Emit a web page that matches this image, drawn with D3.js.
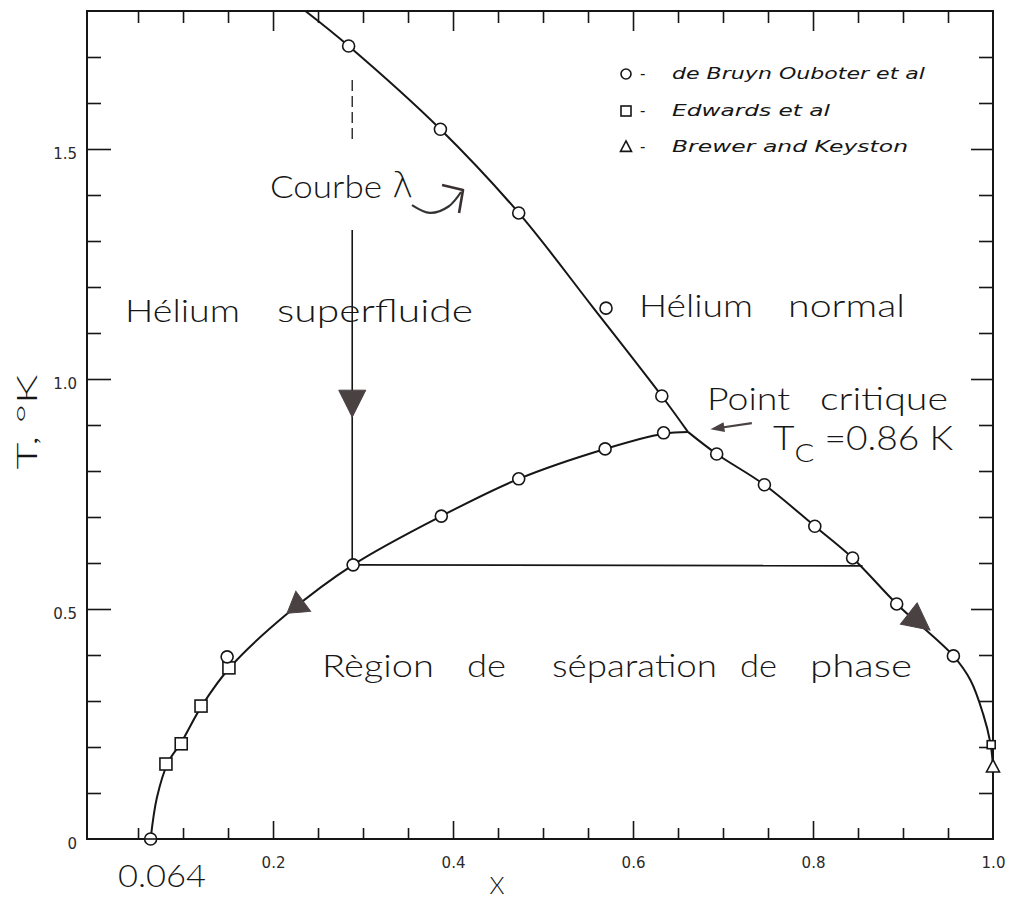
<!DOCTYPE html>
<html><head><meta charset="utf-8">
<script src="https://cdn.jsdelivr.net/npm/d3@7"></script>
<style>body{margin:0;background:#fff}</style>
</head><body>
<svg id="c" width="1013" height="900"></svg>
<script>
// ---------- data ----------
// lambda line (top edge down to the critical point)
const lambdaX = [0.236, 0.284, 0.386, 0.473, 0.555, 0.632, 0.661];
const lambdaT = [1.80, 1.724, 1.543, 1.361, 1.157, 0.963, 0.885];
// right branch of the phase-separation curve
const rightX = [0.661, 0.693, 0.746, 0.802, 0.844, 0.893, 0.956, 0.975, 0.989, 0.997, 1.0];
const rightT = [0.885, 0.837, 0.770, 0.680, 0.611, 0.511, 0.398, 0.345, 0.272, 0.210, 0.159];
// left branch of the phase-separation curve
const leftX = [0.064, 0.071, 0.083, 0.098, 0.121, 0.153, 0.216, 0.289, 0.387, 0.473, 0.569, 0.634, 0.661];
const leftT = [0.0, 0.09, 0.165, 0.21, 0.29, 0.375, 0.49, 0.596, 0.702, 0.783, 0.848, 0.881, 0.885];
// de Bruyn Ouboter et al (circles)
const bruynX = [0.284, 0.386, 0.473, 0.570, 0.632, 0.693, 0.746, 0.802, 0.844, 0.893, 0.956, 0.149, 0.289, 0.387, 0.473, 0.569, 0.634, 0.064];
const bruynT = [1.724, 1.543, 1.361, 1.154, 0.963, 0.837, 0.770, 0.680, 0.611, 0.511, 0.398, 0.396, 0.596, 0.702, 0.783, 0.848, 0.883, 0.0];
// Edwards et al (squares)
const edwardsX = [0.081, 0.098, 0.120, 0.151, 0.998];
const edwardsT = [0.163, 0.207, 0.289, 0.372, 0.205];
// Brewer and Keyston (triangles)
const brewerX = [1.0];
const brewerT = [0.157];
// tie line and vertical path of the cooling example
const tieX = [0.289, 0.855];
const tieT = [0.596, 0.594];
const vertX = 0.288;
const vertDashT = [1.65, 1.52];
const vertSolidT = [1.324, 0.596];
// axis ticks
const xMajor = [0.2, 0.4, 0.6, 0.8];
const xLabelVals = [0.2, 0.4, 0.6, 0.8, 1.0];
const xLabels = ["0.2", "0.4", "0.6", "0.8", "1.0"];
const yMajor = [0.5, 1.0, 1.5];
const yLabelVals = [0, 0.5, 1.0, 1.5];
const yLabels = ["0", "0.5", "1.0", "1.5"];
const legendNames = ["de Bruyn Ouboter et al", "Edwards et al", "Brewer and Keyston"];

// ---------- setup ----------
const svg = d3.select("#c");
const x = d3.scaleLinear().domain([-0.0067, 1.0]).range([87, 993]);
const y = d3.scaleLinear().domain([0, 1.8]).range([839, 11]);
const xMinor = d3.range(1, 20).map(i => +(i * 0.05).toFixed(2)).filter(v => !xMajor.includes(v));
const yMinor = d3.range(1, 18).map(i => +(i * 0.1).toFixed(1)).filter(v => !yMajor.includes(v));
const INK = "#161616";
const ARROW = "#4a4242";
const FONT = "Lato, 'DejaVu Sans', sans-serif";

function styleAxis(g) {
  g.select(".domain").remove();
  g.selectAll(".tick line").attr("stroke", INK).attr("stroke-width", 1.6);
}

// ticks (pointing inward)
svg.append("g").attr("transform", "translate(0,839)").call(d3.axisBottom(x).tickValues(xMinor).tickSize(-11).tickFormat("")).call(styleAxis);
svg.append("g").attr("transform", "translate(0,839)").call(d3.axisBottom(x).tickValues(xMajor).tickSize(-18).tickFormat("")).call(styleAxis);
svg.append("g").attr("transform", "translate(0,11)").call(d3.axisTop(x).tickValues(xMinor).tickSize(-12).tickFormat("")).call(styleAxis);
svg.append("g").attr("transform", "translate(0,11)").call(d3.axisTop(x).tickValues(xMajor).tickSize(-20).tickFormat("")).call(styleAxis);
svg.append("g").attr("transform", "translate(87,0)").call(d3.axisLeft(y).tickValues(yMinor).tickSize(-14).tickFormat("")).call(styleAxis);
svg.append("g").attr("transform", "translate(87,0)").call(d3.axisLeft(y).tickValues(yMajor).tickSize(-24).tickFormat("")).call(styleAxis);
svg.append("g").attr("transform", "translate(993,0)").call(d3.axisRight(y).tickValues(yMinor).tickSize(-14).tickFormat("")).call(styleAxis);
svg.append("g").attr("transform", "translate(993,0)").call(d3.axisRight(y).tickValues(yMajor).tickSize(-22).tickFormat("")).call(styleAxis);

// tick labels
const xl = svg.append("g").attr("transform", "translate(0,839)")
  .call(d3.axisBottom(x).tickValues(xLabelVals).tickSize(0).tickPadding(18).tickFormat((d, i) => xLabels[i]));
xl.select(".domain").remove();
xl.selectAll("text").attr("font-family", "'DejaVu Sans', sans-serif").attr("font-size", 15).attr("fill", "#2a2a2a");
const yl = svg.append("g").attr("transform", "translate(87,0)")
  .call(d3.axisLeft(y).tickValues(yLabelVals).tickSize(0).tickPadding(10).tickFormat((d, i) => yLabels[i]));
yl.select(".domain").remove();
yl.selectAll("text").attr("font-family", "'DejaVu Sans', sans-serif").attr("font-size", 15).attr("fill", "#2a2a2a")
  .attr("dy", "0.6em");

// frame
svg.append("rect").attr("x", x.range()[0]).attr("y", y.range()[1])
  .attr("width", x.range()[1] - x.range()[0]).attr("height", y.range()[0] - y.range()[1])
  .attr("fill", "none").attr("stroke", INK).attr("stroke-width", 2);

// curves
const zip = (a, b) => a.map((v, i) => [v, b[i]]);
const line = d3.line().x(d => x(d[0])).y(d => y(d[1])).curve(d3.curveCatmullRom.alpha(0.5));
const straight = d3.line().x(d => x(d[0])).y(d => y(d[1]));
[zip(lambdaX, lambdaT), zip(rightX, rightT), zip(leftX, leftT)].forEach(pts => {
  svg.append("path").attr("d", line(pts)).attr("fill", "none").attr("stroke", INK).attr("stroke-width", 2);
});
svg.append("path").attr("d", straight(zip(tieX, tieT))).attr("fill", "none").attr("stroke", INK).attr("stroke-width", 1.8);
svg.append("path").attr("d", straight(vertDashT.map(t => [vertX, t]))).attr("fill", "none")
  .attr("stroke", INK).attr("stroke-width", 1.3).attr("stroke-dasharray", "11,5");
svg.append("path").attr("d", straight(vertSolidT.map(t => [vertX, t]))).attr("fill", "none")
  .attr("stroke", INK).attr("stroke-width", 1.6);

// filled direction arrows (tip, and a point behind it giving the direction)
const arrows = [
  { tip: [0.288, 0.917], from: [0.288, 1.0], len: 27, wid: 27 },
  { tip: [0.2156, 0.491], from: [0.289, 0.596], len: 20, wid: 25 },
  { tip: [0.930, 0.454], from: [0.893, 0.511], len: 27, wid: 27 }
];
arrows.forEach(a => {
  const tx = x(a.tip[0]), ty = y(a.tip[1]);
  const fx = x(a.from[0]), fy = y(a.from[1]);
  const ang = Math.atan2(ty - fy, tx - fx) * 180 / Math.PI;
  svg.append("path")
    .attr("d", `M0,0 L${-a.len},${-a.wid / 2} L${-a.len},${a.wid / 2} Z`)
    .attr("transform", `translate(${tx},${ty}) rotate(${ang})`)
    .attr("fill", ARROW).attr("stroke", ARROW).attr("stroke-width", 1);
});

// markers
const circ = (sel, cx, cy, r) => sel.append("circle").attr("cx", cx).attr("cy", cy).attr("r", r)
  .attr("fill", "#fff").attr("stroke", INK).attr("stroke-width", 1.6);
const sq = (sel, cx, cy, s) => sel.append("rect").attr("x", cx - s / 2).attr("y", cy - s / 2).attr("width", s).attr("height", s)
  .attr("fill", "#fff").attr("stroke", INK).attr("stroke-width", 1.6);
const tri = (sel, cx, cy, s) => sel.append("path")
  .attr("d", `M${cx},${cy - s * 0.55} L${cx + s / 2},${cy + s * 0.4} L${cx - s / 2},${cy + s * 0.4} Z`)
  .attr("fill", "#fff").attr("stroke", INK).attr("stroke-width", 1.6);
const mk = svg.append("g");
edwardsX.forEach((v, i) => sq(mk, x(v), y(edwardsT[i]), v > 0.9 ? 8 : 12));
bruynX.forEach((v, i) => circ(mk, x(v), y(bruynT[i]), 6));
brewerX.forEach((v, i) => tri(mk, x(v), y(brewerT[i]), 13));
// the 0.064 point is crossed by the axis
svg.append("line").attr("x1", x(0.064) - 7).attr("x2", x(0.064) + 7).attr("y1", y(0)).attr("y2", y(0))
  .attr("stroke", INK).attr("stroke-width", 1.6);

// small arrow to the critical point
const ca0 = [0.732, 0.904], ca1 = [0.686, 0.891];
svg.append("path").attr("d", straight([ca0, [0.697, 0.894]])).attr("stroke", ARROW).attr("stroke-width", 2.2).attr("fill", "none");
{
  const tx = x(ca1[0]), ty = y(ca1[1]), fx = x(ca0[0]), fy = y(ca0[1]);
  const ang = Math.atan2(ty - fy, tx - fx) * 180 / Math.PI;
  svg.append("path").attr("d", "M0,0 L-14,-5 L-14,5 Z")
    .attr("transform", `translate(${tx},${ty}) rotate(${ang})`).attr("fill", ARROW);
}
// curved arrow from "Courbe λ" to the lambda line
const cur = [[0.3544, 1.378], [0.3744, 1.361], [0.395, 1.375], [0.4089, 1.4065]];
svg.append("path").attr("d", line(cur)).attr("fill", "none").attr("stroke", "#333").attr("stroke-width", 2.2);
svg.append("path").attr("d", straight([[0.3878, 1.4217], [0.4111, 1.4109], [0.4067, 1.361]]))
  .attr("fill", "none").attr("stroke", "#3a3030").attr("stroke-width", 2.6).attr("stroke-linejoin", "round");

// annotation texts
function word(t, x0, x1, base, size) {
  return svg.append("text").attr("x", x0).attr("y", base).text(t)
    .attr("font-family", FONT).attr("font-size", size).attr("font-weight", 300).attr("fill", INK)
    .attr("textLength", x1 - x0).attr("lengthAdjust", "spacingAndGlyphs");
}
word("Courbe", 270, 382, 198, 31);
svg.append("text").attr("x", 392).attr("y", 197).text("λ").attr("font-family", "'DejaVu Sans', sans-serif")
  .attr("font-size", 36).attr("font-weight", 300).attr("fill", INK);
word("Hélium", 125, 240, 322, 31);
word("superfluide", 277, 473, 322, 31);
word("Hélium", 639, 753, 317, 31);
word("normal", 788, 905, 317, 31);
word("Point", 707, 790, 410, 31);
word("critique", 820, 948, 410, 31);
word("Règion", 322, 434, 677, 31);
word("de", 467, 506, 677, 31);
word("séparation", 552, 717, 677, 31);
word("de", 740, 777, 677, 31);
word("phase", 810, 912, 677, 31);
word("0.064", 118, 206, 887, 32);
// T_C = 0.86 K
const tc = svg.append("text").attr("x", 773).attr("y", 450).attr("font-family", FONT).attr("font-weight", 300)
  .attr("font-size", 33).attr("fill", INK).attr("textLength", 180).attr("lengthAdjust", "spacingAndGlyphs");
tc.append("tspan").text("T");
tc.append("tspan").text("C").attr("dy", 12).attr("font-size", 26);
tc.append("tspan").text(" =0.86 K").attr("dy", -12);

// axis titles
svg.append("text").attr("x", 497).attr("y", 894).attr("text-anchor", "middle").text("X")
  .attr("font-family", FONT).attr("font-weight", 300).attr("font-size", 24).attr("fill", INK);
svg.append("text").attr("transform", "translate(37,422) rotate(-90)").attr("text-anchor", "middle")
  .text("T, °K").attr("font-family", FONT).attr("font-weight", 300).attr("font-size", 27).attr("fill", INK)
  .attr("textLength", 95).attr("lengthAdjust", "spacingAndGlyphs");

// legend
const legY = [74, 111, 147];
const legEnd = [925, 830, 908];
const leg = svg.append("g");
circ(leg, 626, legY[0], 5);
sq(leg, 626, legY[1], 10);
tri(leg, 626, legY[2], 11);
legendNames.forEach((n, i) => {
  leg.append("text").attr("x", 640).attr("y", legY[i] + 5).text("-")
    .attr("font-family", "'DejaVu Sans', sans-serif").attr("font-size", 15).attr("fill", INK);
  leg.append("text").attr("x", 672).attr("y", legY[i] + 5).text(n)
    .attr("font-family", "'DejaVu Sans', sans-serif").attr("font-style", "italic").attr("font-size", 16)
    .attr("fill", INK).attr("textLength", legEnd[i] - 672).attr("lengthAdjust", "spacingAndGlyphs");
});
</script>
</body></html>
